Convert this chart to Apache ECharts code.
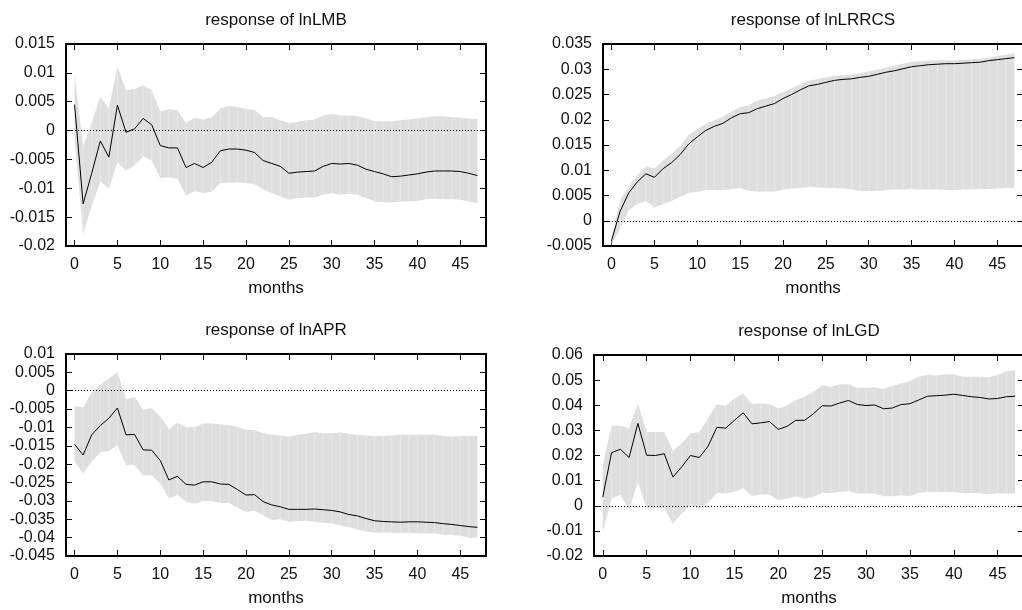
<!DOCTYPE html>
<html>
<head>
<meta charset="utf-8">
<script src="https://cdn.jsdelivr.net/npm/echarts@6/dist/echarts.min.js"></script>
<style>
html, body { margin: 0; padding: 0; background: #fff; }
#box1 { width: 1022px; height: 610px; }
</style>
</head>
<body>
<div id="box1"></div>
<script>
// horizon, months after shock
const aMonths = [0, 1, 2, 3, 4, 5, 6, 7, 8, 9, 10, 11, 12, 13, 14, 15, 16, 17, 18, 19, 20, 21, 22, 23,
    24, 25, 26, 27, 28, 29, 30, 31, 32, 33, 34, 35, 36, 37, 38, 39, 40, 41, 42, 43, 44, 45, 46, 47];
const aXTicks = [0, 5, 10, 15, 20, 25, 30, 35, 40, 45];

// response of lnLMB
const aLmbLine = [0.0045, -0.0127, -0.0074, -0.0018, -0.0046, 0.0044, -0.0003, 0.0003, 0.0021, 0.0010,
    -0.0026, -0.0030, -0.0030, -0.0064, -0.0057, -0.0064, -0.0055, -0.0035, -0.0032, -0.0032,
    -0.0034, -0.0038, -0.0052, -0.0057, -0.0062, -0.0074, -0.0072, -0.0071, -0.0070, -0.0062,
    -0.0057, -0.0058, -0.0057, -0.0060, -0.0067, -0.0071, -0.0075, -0.0080, -0.0079, -0.0077,
    -0.0075, -0.0072, -0.0070, -0.0070, -0.0070, -0.0071, -0.0074, -0.0078];
const aLmbHigh = [0.0097, -0.0027, 0.0013, 0.0058, 0.0038, 0.0111, 0.0070, 0.0072, 0.0078, 0.0070,
    0.0033, 0.0037, 0.0035, 0.0013, 0.0022, 0.0019, 0.0023, 0.0038, 0.0043, 0.0041,
    0.0038, 0.0036, 0.0023, 0.0023, 0.0018, 0.0013, 0.0015, 0.0018, 0.0019, 0.0026,
    0.0029, 0.0026, 0.0026, 0.0025, 0.0021, 0.0016, 0.0016, 0.0016, 0.0018, 0.0019,
    0.0021, 0.0023, 0.0025, 0.0025, 0.0023, 0.0022, 0.0021, 0.0020];
const aLmbLow = [-0.0015, -0.0178, -0.0131, -0.0088, -0.0100, -0.0055, -0.0069, -0.0060, -0.0045, -0.0052,
    -0.0082, -0.0081, -0.0084, -0.0112, -0.0105, -0.0108, -0.0106, -0.0091, -0.0090, -0.0090,
    -0.0091, -0.0093, -0.0102, -0.0108, -0.0114, -0.0120, -0.0117, -0.0116, -0.0116, -0.0111,
    -0.0108, -0.0111, -0.0109, -0.0111, -0.0117, -0.0123, -0.0124, -0.0124, -0.0123, -0.0123,
    -0.0122, -0.0119, -0.0118, -0.0119, -0.0119, -0.0120, -0.0123, -0.0126];

// response of lnLRRCS
const aLrrcsLine = [-0.0039, 0.0019, 0.0055, 0.0077, 0.0093, 0.0086, 0.0103, 0.0115, 0.0131, 0.0152,
    0.0166, 0.0179, 0.0187, 0.0193, 0.0204, 0.0212, 0.0214, 0.0222, 0.0227, 0.0232,
    0.0242, 0.0250, 0.0259, 0.0267, 0.0270, 0.0274, 0.0278, 0.0280, 0.0281, 0.0284,
    0.0286, 0.0290, 0.0294, 0.0297, 0.0301, 0.0305, 0.0307, 0.0309, 0.0310, 0.0311,
    0.0311, 0.0312, 0.0313, 0.0314, 0.0317, 0.0319, 0.0321, 0.0323];
const aLrrcsHigh = [-0.0033, 0.0041, 0.0068, 0.0090, 0.0108, 0.0104, 0.0119, 0.0132, 0.0148, 0.0170,
    0.0181, 0.0192, 0.0199, 0.0206, 0.0217, 0.0225, 0.0229, 0.0238, 0.0242, 0.0247,
    0.0255, 0.0262, 0.0270, 0.0277, 0.0280, 0.0284, 0.0287, 0.0288, 0.0289, 0.0292,
    0.0296, 0.0299, 0.0303, 0.0307, 0.0311, 0.0315, 0.0316, 0.0317, 0.0318, 0.0318,
    0.0318, 0.0319, 0.0320, 0.0321, 0.0323, 0.0326, 0.0329, 0.0331];
const aLrrcsLow = [-0.0048, -0.0015, 0.0021, 0.0033, 0.0039, 0.0026, 0.0033, 0.0039, 0.0047, 0.0055,
    0.0057, 0.0061, 0.0061, 0.0061, 0.0063, 0.0065, 0.0059, 0.0058, 0.0058, 0.0058,
    0.0062, 0.0064, 0.0065, 0.0067, 0.0066, 0.0065, 0.0065, 0.0064, 0.0062, 0.0059,
    0.0059, 0.0059, 0.0061, 0.0062, 0.0062, 0.0063, 0.0062, 0.0062, 0.0062, 0.0061,
    0.0061, 0.0062, 0.0062, 0.0063, 0.0063, 0.0064, 0.0065, 0.0065];

// response of lnAPR
const aAprLine = [-0.0146, -0.0175, -0.0120, -0.0095, -0.0075, -0.0047, -0.0120, -0.0119, -0.0161, -0.0162,
    -0.0190, -0.0243, -0.0233, -0.0255, -0.0257, -0.0248, -0.0248, -0.0254, -0.0255, -0.0269,
    -0.0284, -0.0283, -0.0302, -0.0311, -0.0316, -0.0323, -0.0323, -0.0323, -0.0322, -0.0324,
    -0.0326, -0.0330, -0.0337, -0.0341, -0.0348, -0.0354, -0.0356, -0.0357, -0.0358, -0.0357,
    -0.0357, -0.0358, -0.0359, -0.0362, -0.0364, -0.0367, -0.0370, -0.0372];
const aAprHigh = [-0.0041, -0.0046, -0.0004, 0.0016, 0.0033, 0.0050, -0.0023, -0.0017, -0.0052, -0.0047,
    -0.0070, -0.0104, -0.0087, -0.0100, -0.0099, -0.0089, -0.0089, -0.0091, -0.0094, -0.0099,
    -0.0107, -0.0107, -0.0116, -0.0120, -0.0122, -0.0125, -0.0120, -0.0117, -0.0113, -0.0116,
    -0.0116, -0.0114, -0.0118, -0.0120, -0.0122, -0.0123, -0.0123, -0.0122, -0.0120, -0.0120,
    -0.0120, -0.0120, -0.0120, -0.0123, -0.0125, -0.0123, -0.0123, -0.0123];
const aAprLow = [-0.0193, -0.0225, -0.0193, -0.0168, -0.0164, -0.0148, -0.0202, -0.0202, -0.0230, -0.0230,
    -0.0252, -0.0293, -0.0284, -0.0302, -0.0308, -0.0300, -0.0300, -0.0306, -0.0306, -0.0318,
    -0.0330, -0.0327, -0.0339, -0.0352, -0.0350, -0.0357, -0.0355, -0.0355, -0.0357, -0.0360,
    -0.0361, -0.0366, -0.0372, -0.0377, -0.0383, -0.0386, -0.0386, -0.0387, -0.0387, -0.0387,
    -0.0388, -0.0389, -0.0389, -0.0392, -0.0393, -0.0395, -0.0400, -0.0400];

// response of lnLGD
const aLgdLine = [0.0035, 0.0211, 0.0225, 0.0192, 0.0328, 0.0201, 0.0200, 0.0207, 0.0114, 0.0155,
    0.0200, 0.0192, 0.0237, 0.0312, 0.0309, 0.0340, 0.0370, 0.0326, 0.0330, 0.0335,
    0.0304, 0.0316, 0.0340, 0.0340, 0.0366, 0.0398, 0.0397, 0.0409, 0.0419, 0.0403,
    0.0399, 0.0401, 0.0386, 0.0389, 0.0403, 0.0406, 0.0421, 0.0436, 0.0438, 0.0440,
    0.0444, 0.0439, 0.0434, 0.0431, 0.0425, 0.0427, 0.0434, 0.0436];
const aLgdHigh = [0.0161, 0.0318, 0.0318, 0.0308, 0.0407, 0.0294, 0.0294, 0.0294, 0.0219, 0.0248,
    0.0288, 0.0294, 0.0348, 0.0403, 0.0398, 0.0427, 0.0447, 0.0405, 0.0407, 0.0405,
    0.0388, 0.0398, 0.0421, 0.0434, 0.0454, 0.0480, 0.0474, 0.0484, 0.0484, 0.0470,
    0.0470, 0.0471, 0.0465, 0.0477, 0.0487, 0.0496, 0.0513, 0.0520, 0.0518, 0.0523,
    0.0523, 0.0513, 0.0513, 0.0513, 0.0511, 0.0520, 0.0534, 0.0539];
const aLgdLow = [-0.0102, 0.0029, 0.0044, -0.0014, 0.0095, -0.0009, -0.0011, -0.0009, -0.0071, -0.0031,
    0.0002, -0.0011, 0.0013, 0.0051, 0.0049, 0.0055, 0.0071, 0.0039, 0.0045, 0.0045,
    0.0022, 0.0029, 0.0038, 0.0029, 0.0035, 0.0051, 0.0051, 0.0055, 0.0059, 0.0049,
    0.0049, 0.0049, 0.0038, 0.0038, 0.0042, 0.0038, 0.0051, 0.0055, 0.0055, 0.0055,
    0.0055, 0.0051, 0.0051, 0.0051, 0.0046, 0.0049, 0.0049, 0.0049];

const sFont = 'Liberation Sans';
const aPanels = [
    { title: 'response of lnLMB', line: aLmbLine, low: aLmbLow, high: aLmbHigh,
      yMin: -0.02, yMax: 0.015, yStep: 0.005, box: { left: 66, top: 44, width: 420, height: 202 } },
    { title: 'response of lnLRRCS', line: aLrrcsLine, low: aLrrcsLow, high: aLrrcsHigh,
      yMin: -0.005, yMax: 0.035, yStep: 0.005, box: { left: 603, top: 44, width: 420, height: 202 } },
    { title: 'response of lnAPR', line: aAprLine, low: aAprLow, high: aAprHigh,
      yMin: -0.045, yMax: 0.01, yStep: 0.005, box: { left: 66, top: 354, width: 420, height: 202 } },
    { title: 'response of lnLGD', line: aLgdLine, low: aLgdLow, high: aLgdHigh,
      yMin: -0.02, yMax: 0.06, yStep: 0.01, box: { left: 594, top: 355, width: 430, height: 201 } },
];

const oFrame = { show: true, onZero: false, lineStyle: { color: '#000', width: 2 } };
const oTick = { show: true, inside: true, length: 6, lineStyle: { color: '#000', width: 1 } };

function bandSeries(idx, aLow, aHigh){
    return {
        type: 'custom',
        xAxisIndex: idx * 2,
        yAxisIndex: idx * 2,
        silent: true,
        z: 1,
        data: aMonths.map((m, i) => [m, aLow[i], aHigh[i]]),
        renderItem(params, api){
            if (params.dataIndex !== 0) return;
            const aTop = aMonths.map((m, i) => api.coord([m, aHigh[i]]));
            const aBot = aMonths.map((m, i) => api.coord([m, aLow[i]]));
            const children = [{
                type: 'polygon',
                shape: { points: aTop.concat(aBot.slice().reverse()) },
                style: { fill: '#dedede' },
            }];
            // 每个月一条很淡的竖线 (gnuplot 填充留下的缝)
            for (let i = 1; i < aMonths.length - 1; i++){
                children.push({
                    type: 'line',
                    shape: { x1: aTop[i][0], y1: aTop[i][1], x2: aBot[i][0], y2: aBot[i][1] },
                    style: { stroke: '#e8e8e8', lineWidth: 1 },
                });
            }
            return { type: 'group', children };
        },
    };
}

const grid = [], xAxis = [], yAxis = [], title = [], series = [];
aPanels.forEach((p, idx) => {
    const {left, top, width, height} = p.box;
    grid.push({ left, top, width, height, containLabel: false, outerBoundsMode: 'none' });
    title.push({
        text: p.title,
        left: left + width / 2,
        top: top - 32,
        textAlign: 'center',
        padding: 0,
        textStyle: { fontFamily: sFont, fontSize: 17, fontWeight: 'normal', color: '#111' },
    });
    const oX = {
        type: 'value', gridIndex: idx, min: -1, max: 48,
        axisLine: oFrame, splitLine: { show: false },
        axisTick: { ...oTick, customValues: aXTicks },
    };
    xAxis.push({
        ...oX, position: 'bottom',
        name: 'months', nameLocation: 'middle', nameGap: 34,
        nameTextStyle: { fontFamily: sFont, fontSize: 17, color: '#111' },
        axisLabel: { customValues: aXTicks, fontFamily: sFont, fontSize: 16, color: '#111', margin: 11 },
    });
    xAxis.push({ ...oX, position: 'top', axisLabel: { show: false } });
    const oY = {
        type: 'value', gridIndex: idx, min: p.yMin, max: p.yMax, interval: p.yStep,
        axisLine: oFrame, splitLine: { show: false }, axisTick: oTick,
    };
    yAxis.push({
        ...oY, position: 'left',
        axisLabel: { fontFamily: sFont, fontSize: 16, color: '#111', margin: 11 },
    });
    yAxis.push({ ...oY, position: 'right', axisLabel: { show: false } });

    series.push(bandSeries(idx, p.low, p.high));
    series.push({
        type: 'line',
        xAxisIndex: idx * 2,
        yAxisIndex: idx * 2,
        data: aMonths.map((m, i) => [m, p.line[i]]),
        showSymbol: false,
        symbol: 'none',
        silent: true,
        z: 3,
        lineStyle: { color: '#000', width: 1 },
        markLine: {
            silent: true,
            symbol: 'none',
            label: { show: false },
            lineStyle: { color: '#000', width: 1, type: [1, 2] },
            data: [{ yAxis: 0 }],
        },
    });
});

const myChart = echarts.init(document.getElementById('box1'), null, { renderer: 'canvas' });
myChart.setOption({
    animation: false,
    backgroundColor: '#fff',
    title, grid, xAxis, yAxis, series,
});
</script>
</body>
</html>
